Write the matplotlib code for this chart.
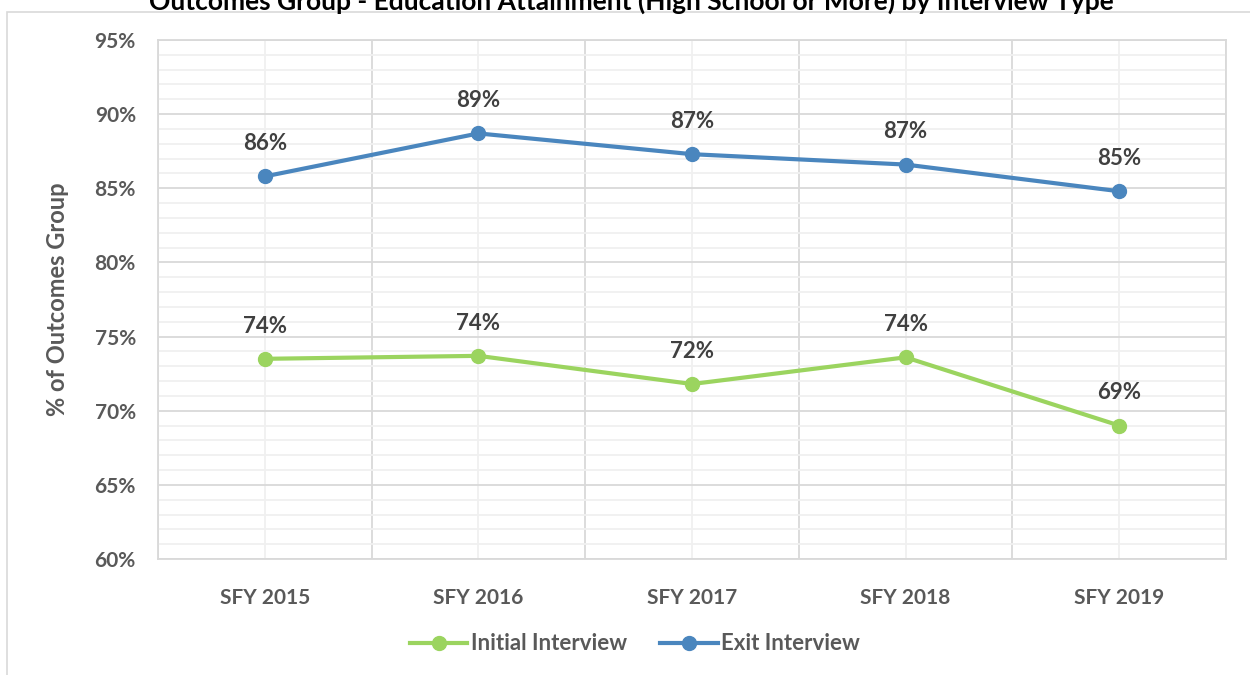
import matplotlib
matplotlib.use('Agg')
import matplotlib.pyplot as plt
from matplotlib.patches import Rectangle
from matplotlib.ticker import MultipleLocator, FuncFormatter

categories = ['SFY 2015', 'SFY 2016', 'SFY 2017', 'SFY 2018', 'SFY 2019']
initial_vals = [73.5, 73.7, 71.8, 73.6, 69.0]
exit_vals = [85.8, 88.7, 87.3, 86.6, 84.8]

green = '#9BD45F'
blue = '#4A86BE'
grey_txt = '#595959'
label_txt = '#404040'

plt.rcParams['font.family'] = ['Lato', 'DejaVu Sans']
plt.rcParams['font.weight'] = 'bold'

fig = plt.figure(figsize=(12.5, 6.75), dpi=100)
ax = fig.add_axes([158 / 1250, 1 - 559 / 675, (1226 - 158) / 1250, (559 - 40) / 675])

# outer chart frame (cut off at right/bottom)
fig.patches.append(Rectangle((7 / 1250, -0.1), 1.2, 1 - 12 / 675 + 0.1, transform=fig.transFigure,
                             fill=False, edgecolor='#D9D9D9', linewidth=1.2))

x = list(range(len(categories)))
ax.plot(x, initial_vals, color=green, linewidth=3, marker='o', markersize=10, label='Initial Interview', zorder=3)
ax.plot(x, exit_vals, color=blue, linewidth=3, marker='o', markersize=10, label='Exit Interview', zorder=3)

for xi, v in zip(x, initial_vals):
    ax.annotate(f'{round(v):d}%', (xi, v), xytext=(0, 16), textcoords='offset points', ha='center', va='bottom',
                fontsize=16, fontweight='bold', color=label_txt)
for xi, v in zip(x, exit_vals):
    ax.annotate(f'{round(v):d}%', (xi, v), xytext=(0, 16), textcoords='offset points', ha='center', va='bottom',
                fontsize=16, fontweight='bold', color=label_txt)

ax.set_xlim(-0.5, 4.5)
ax.set_ylim(60, 95)
ax.yaxis.set_major_locator(MultipleLocator(5))
ax.yaxis.set_minor_locator(MultipleLocator(1))
ax.yaxis.set_major_formatter(FuncFormatter(lambda v, p: f'{v:.0f}%'))
ax.set_xticks([i + 0.5 for i in range(-1, 5)], minor=False)
ax.set_xticklabels([''] * 6)
ax.set_xticks(x, minor=True)
ax.set_xticklabels(categories, minor=True)

ax.grid(which='major', color='#D9D9D9', linewidth=1.3)
ax.grid(which='minor', color='#F0F0F0', linewidth=1.3)
ax.set_axisbelow(True)
for s in ax.spines.values():
    s.set_color('#D9D9D9')
    s.set_linewidth(1.3)

ax.tick_params(which='both', length=0)
ax.tick_params(axis='y', labelsize=15, labelcolor=grey_txt, pad=16)
ax.tick_params(axis='x', which='minor', labelsize=15, labelcolor=grey_txt, pad=21)
for t in ax.get_yticklabels() + ax.get_xticklabels(minor=True):
    t.set_fontweight('bold')

ax.set_ylabel('% of Outcomes Group', fontsize=17, fontweight='bold', color=grey_txt, labelpad=18)

fig.text(0.505, 1 - 1 / 675, 'Outcomes Group - Education Attainment (High School or More) by Interview Type',
         ha='center', va='center', fontsize=19, fontweight='bold', color='black')

leg = fig.legend(loc='center', bbox_to_anchor=(0.508, 1 - 644 / 675), ncol=2, frameon=False,
                 prop={'size': 16, 'weight': 'bold'}, handlelength=2.6, columnspacing=1.5, handletextpad=0.15)
for t in leg.get_texts():
    t.set_color(grey_txt)

fig.savefig('out.png', dpi=100)
